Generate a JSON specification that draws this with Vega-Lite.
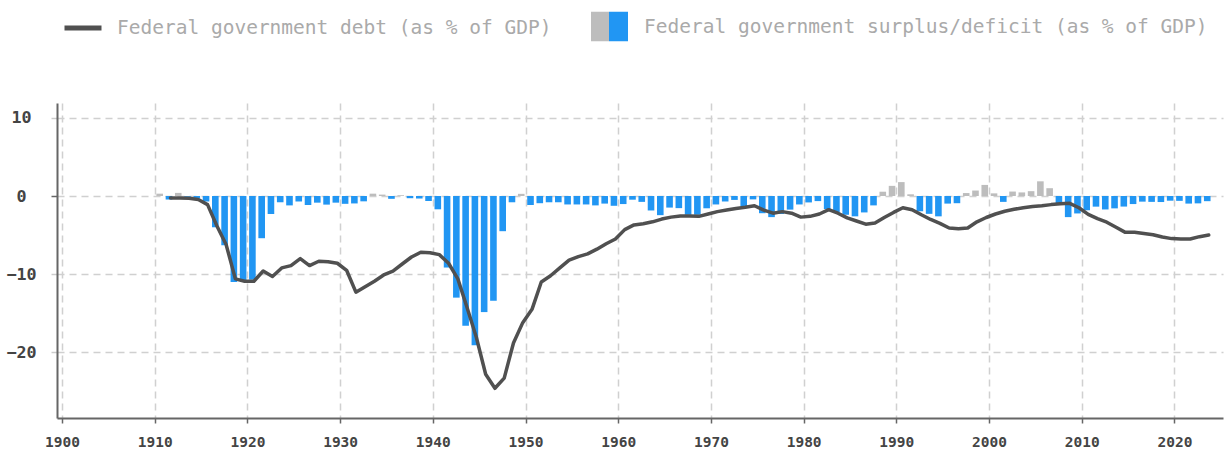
{
  "$schema": "https://vega.github.io/schema/vega-lite/v6.json",
  "width": 1166,
  "height": 315,
  "autosize": {"type": "none"},
  "padding": {"left": 57, "top": 103, "right": 1, "bottom": 34},
  "background": "white",
  "config": {
    "view": {"stroke": null},
    "font": "DejaVu Sans Mono",
    "axis": {
      "labelFont": "DejaVu Sans Mono",
      "labelColor": "#444444",
      "labelFontWeight": "bold",
      "domainColor": "#666666",
      "domainWidth": 2,
      "grid": true,
      "gridColor": "#d0d0d0",
      "gridDash": [7, 5],
      "gridWidth": 1.5,
      "title": null
    }
  },
  "datasets": {
    "balance": [
      {"year": 1910, "value": 0.3}, {"year": 1911, "value": -0.45}, {"year": 1912, "value": 0.4}, {"year": 1913, "value": -0.1},
      {"year": 1914, "value": -0.3}, {"year": 1915, "value": -0.7}, {"year": 1916, "value": -4.0}, {"year": 1917, "value": -6.3},
      {"year": 1918, "value": -11.0}, {"year": 1919, "value": -10.9}, {"year": 1920, "value": -10.7}, {"year": 1921, "value": -5.4},
      {"year": 1922, "value": -2.3}, {"year": 1923, "value": -0.8}, {"year": 1924, "value": -1.2}, {"year": 1925, "value": -0.7},
      {"year": 1926, "value": -1.15}, {"year": 1927, "value": -0.85}, {"year": 1928, "value": -1.1}, {"year": 1929, "value": -0.85},
      {"year": 1930, "value": -1.0}, {"year": 1931, "value": -0.95}, {"year": 1932, "value": -0.68}, {"year": 1933, "value": 0.3},
      {"year": 1934, "value": 0.18}, {"year": 1935, "value": -0.36}, {"year": 1936, "value": 0.1}, {"year": 1937, "value": -0.28},
      {"year": 1938, "value": -0.32}, {"year": 1939, "value": -0.64}, {"year": 1940, "value": -1.7}, {"year": 1941, "value": -9.15},
      {"year": 1942, "value": -13.0}, {"year": 1943, "value": -16.6}, {"year": 1944, "value": -19.1}, {"year": 1945, "value": -14.85},
      {"year": 1946, "value": -13.4}, {"year": 1947, "value": -4.5}, {"year": 1948, "value": -0.8}, {"year": 1949, "value": 0.28},
      {"year": 1950, "value": -1.15}, {"year": 1951, "value": -0.92}, {"year": 1952, "value": -0.8}, {"year": 1953, "value": -0.8},
      {"year": 1954, "value": -1.08}, {"year": 1955, "value": -1.08}, {"year": 1956, "value": -1.08}, {"year": 1957, "value": -1.2},
      {"year": 1958, "value": -0.97}, {"year": 1959, "value": -1.25}, {"year": 1960, "value": -1.03}, {"year": 1961, "value": -0.47},
      {"year": 1962, "value": -0.75}, {"year": 1963, "value": -1.85}, {"year": 1964, "value": -2.45}, {"year": 1965, "value": -1.48},
      {"year": 1966, "value": -1.55}, {"year": 1967, "value": -2.4}, {"year": 1968, "value": -2.4}, {"year": 1969, "value": -1.57},
      {"year": 1970, "value": -1.08}, {"year": 1971, "value": -0.7}, {"year": 1972, "value": -0.5}, {"year": 1973, "value": -1.35},
      {"year": 1974, "value": -0.43}, {"year": 1975, "value": -2.2}, {"year": 1976, "value": -2.7}, {"year": 1977, "value": -2.3},
      {"year": 1978, "value": -1.74}, {"year": 1979, "value": -1.08}, {"year": 1980, "value": -0.82}, {"year": 1981, "value": -0.65},
      {"year": 1982, "value": -1.66}, {"year": 1983, "value": -2.1}, {"year": 1984, "value": -2.4}, {"year": 1985, "value": -2.6},
      {"year": 1986, "value": -2.1}, {"year": 1987, "value": -1.2}, {"year": 1988, "value": 0.55}, {"year": 1989, "value": 1.3},
      {"year": 1990, "value": 1.78}, {"year": 1991, "value": 0.22}, {"year": 1992, "value": -1.95}, {"year": 1993, "value": -2.28},
      {"year": 1994, "value": -2.6}, {"year": 1995, "value": -0.97}, {"year": 1996, "value": -0.92}, {"year": 1997, "value": 0.38},
      {"year": 1998, "value": 0.7}, {"year": 1999, "value": 1.42}, {"year": 2000, "value": 0.34}, {"year": 2001, "value": -0.75},
      {"year": 2002, "value": 0.57}, {"year": 2003, "value": 0.46}, {"year": 2004, "value": 0.62}, {"year": 2005, "value": 1.88},
      {"year": 2006, "value": 1.0}, {"year": 2007, "value": -0.9}, {"year": 2008, "value": -2.7}, {"year": 2009, "value": -2.23},
      {"year": 2010, "value": -1.82}, {"year": 2011, "value": -1.36}, {"year": 2012, "value": -1.72}, {"year": 2013, "value": -1.58},
      {"year": 2014, "value": -1.35}, {"year": 2015, "value": -1.03}, {"year": 2016, "value": -0.72}, {"year": 2017, "value": -0.75},
      {"year": 2018, "value": -0.77}, {"year": 2019, "value": -0.6}, {"year": 2020, "value": -0.62}, {"year": 2021, "value": -0.97},
      {"year": 2022, "value": -0.94}, {"year": 2023, "value": -0.66}
    ],
    "debt": [
      {"year": 1911, "value": -0.25}, {"year": 1912, "value": -0.25}, {"year": 1913, "value": -0.3}, {"year": 1914, "value": -0.45},
      {"year": 1915, "value": -1.1}, {"year": 1916, "value": -3.8}, {"year": 1917, "value": -6.2}, {"year": 1918, "value": -10.6},
      {"year": 1919, "value": -10.9}, {"year": 1920, "value": -10.9}, {"year": 1921, "value": -9.6}, {"year": 1922, "value": -10.3},
      {"year": 1923, "value": -9.2}, {"year": 1924, "value": -8.9}, {"year": 1925, "value": -8.0}, {"year": 1926, "value": -8.9},
      {"year": 1927, "value": -8.35}, {"year": 1928, "value": -8.4}, {"year": 1929, "value": -8.6}, {"year": 1930, "value": -9.5},
      {"year": 1931, "value": -12.3}, {"year": 1932, "value": -11.6}, {"year": 1933, "value": -10.9}, {"year": 1934, "value": -10.1},
      {"year": 1935, "value": -9.6}, {"year": 1936, "value": -8.7}, {"year": 1937, "value": -7.8}, {"year": 1938, "value": -7.2},
      {"year": 1939, "value": -7.25}, {"year": 1940, "value": -7.5}, {"year": 1941, "value": -8.6}, {"year": 1942, "value": -10.6},
      {"year": 1943, "value": -14.3}, {"year": 1944, "value": -18.1}, {"year": 1945, "value": -22.8}, {"year": 1946, "value": -24.6},
      {"year": 1947, "value": -23.3}, {"year": 1948, "value": -18.8}, {"year": 1949, "value": -16.2}, {"year": 1950, "value": -14.5},
      {"year": 1951, "value": -11.0}, {"year": 1952, "value": -10.2}, {"year": 1953, "value": -9.2}, {"year": 1954, "value": -8.2},
      {"year": 1955, "value": -7.75}, {"year": 1956, "value": -7.4}, {"year": 1957, "value": -6.8}, {"year": 1958, "value": -6.1},
      {"year": 1959, "value": -5.5}, {"year": 1960, "value": -4.3}, {"year": 1961, "value": -3.7}, {"year": 1962, "value": -3.55},
      {"year": 1963, "value": -3.3}, {"year": 1964, "value": -2.95}, {"year": 1965, "value": -2.7}, {"year": 1966, "value": -2.55},
      {"year": 1967, "value": -2.55}, {"year": 1968, "value": -2.6}, {"year": 1969, "value": -2.3}, {"year": 1970, "value": -2.0},
      {"year": 1971, "value": -1.8}, {"year": 1972, "value": -1.6}, {"year": 1973, "value": -1.45}, {"year": 1974, "value": -1.25},
      {"year": 1975, "value": -1.8}, {"year": 1976, "value": -2.2}, {"year": 1977, "value": -2.0}, {"year": 1978, "value": -2.2},
      {"year": 1979, "value": -2.7}, {"year": 1980, "value": -2.6}, {"year": 1981, "value": -2.3}, {"year": 1982, "value": -1.75},
      {"year": 1983, "value": -2.2}, {"year": 1984, "value": -2.8}, {"year": 1985, "value": -3.2}, {"year": 1986, "value": -3.6},
      {"year": 1987, "value": -3.45}, {"year": 1988, "value": -2.75}, {"year": 1989, "value": -2.1}, {"year": 1990, "value": -1.5},
      {"year": 1991, "value": -1.75}, {"year": 1992, "value": -2.4}, {"year": 1993, "value": -3.0}, {"year": 1994, "value": -3.5},
      {"year": 1995, "value": -4.1}, {"year": 1996, "value": -4.2}, {"year": 1997, "value": -4.1}, {"year": 1998, "value": -3.3},
      {"year": 1999, "value": -2.75}, {"year": 2000, "value": -2.3}, {"year": 2001, "value": -1.95}, {"year": 2002, "value": -1.7},
      {"year": 2003, "value": -1.5}, {"year": 2004, "value": -1.35}, {"year": 2005, "value": -1.25}, {"year": 2006, "value": -1.1},
      {"year": 2007, "value": -1.0}, {"year": 2008, "value": -0.94}, {"year": 2009, "value": -1.5}, {"year": 2010, "value": -2.35},
      {"year": 2011, "value": -2.9}, {"year": 2012, "value": -3.35}, {"year": 2013, "value": -4.0}, {"year": 2014, "value": -4.65},
      {"year": 2015, "value": -4.65}, {"year": 2016, "value": -4.8}, {"year": 2017, "value": -4.95}, {"year": 2018, "value": -5.25},
      {"year": 2019, "value": -5.45}, {"year": 2020, "value": -5.5}, {"year": 2021, "value": -5.5}, {"year": 2022, "value": -5.2},
      {"year": 2023, "value": -5.0}
    ]
  },
  "encoding": {
    "x": {
      "field": "year",
      "type": "quantitative",
      "scale": {"domain": [1900, 2024.7], "nice": false, "zero": false},
      "axis": {
        "values": [1900, 1910, 1920, 1930, 1940, 1950, 1960, 1970, 1980, 1990, 2000, 2010, 2020],
        "format": "d",
        "labelFontSize": 14.5,
        "labelPadding": 12,
        "tickSize": 5,
        "tickColor": "#666666",
        "tickWidth": 1.5
      }
    },
    "y": {
      "field": "value",
      "type": "quantitative",
      "scale": {"domain": [-28.4, 11.9], "nice": false, "zero": false},
      "axis": {
        "values": [-20, -10, 0, 10],
        "labelFontSize": 16.7,
        "labelAlign": "center",
        "labelPadding": 30,
        "tickSize": 6,
        "tickWidth": 1.5,
        "tickColor": {"condition": {"test": "datum.value === 0", "value": "#666666"}, "value": "#cccccc"}
      }
    }
  },
  "layer": [
    {
      "data": {"name": "balance"},
      "mark": {"type": "bar", "width": 6.6, "xOffset": 5, "orient": "vertical"},
      "encoding": {
        "y2": {"datum": 0},
        "fill": {
          "datum": "Federal government surplus/deficit (as % of GDP)",
          "type": "nominal",
          "condition": [
            {"test": "datum.value > 0", "value": "#bdbdbd"},
            {"test": "datum.value <= 0", "value": "#2196f3"}
          ],
          "scale": {"range": [{"expr": "{gradient: 'linear', x1: 0, y1: 0, x2: 1, y2: 0, stops: [{offset: 0, color: '#bdbdbd'}, {offset: 0.5, color: '#bdbdbd'}, {offset: 0.5, color: '#2196f3'}, {offset: 1, color: '#2196f3'}]}"}]},
          "legend": {
            "orient": "none",
            "legendX": 534,
            "legendY": -95,
            "title": null,
            "padding": 0,
            "symbolType": "M-1,-0.8H1V0.8H-1Z",
            "symbolSize": 1369,
            "symbolStrokeWidth": 0,
            "labelFont": "DejaVu Sans Mono",
            "labelFontSize": 19.5,
            "labelColor": "#aaaaaa",
            "labelOffset": 16,
            "labelLimit": 1000
          }
        }
      }
    },
    {
      "mark": {"type": "rule", "color": "#666666", "strokeWidth": 1.5},
      "encoding": {"y": {"datum": 0}, "x": null}
    },
    {
      "data": {"name": "debt"},
      "mark": {"type": "line", "strokeWidth": 3.5, "strokeJoin": "round", "strokeCap": "round", "xOffset": 6.5},
      "encoding": {
        "stroke": {
          "datum": "Federal government debt (as % of GDP)",
          "type": "nominal",
          "scale": {"range": ["#505050"]},
          "legend": {
            "orient": "none",
            "legendX": 5,
            "legendY": -96,
            "title": null,
            "padding": 0,
            "symbolType": "stroke",
            "symbolSize": 1369,
            "symbolStrokeWidth": 5,
            "labelFont": "DejaVu Sans Mono",
            "labelFontSize": 19.5,
            "labelColor": "#aaaaaa",
            "labelOffset": 13,
            "labelLimit": 1000
          }
        }
      }
    }
  ]
}
